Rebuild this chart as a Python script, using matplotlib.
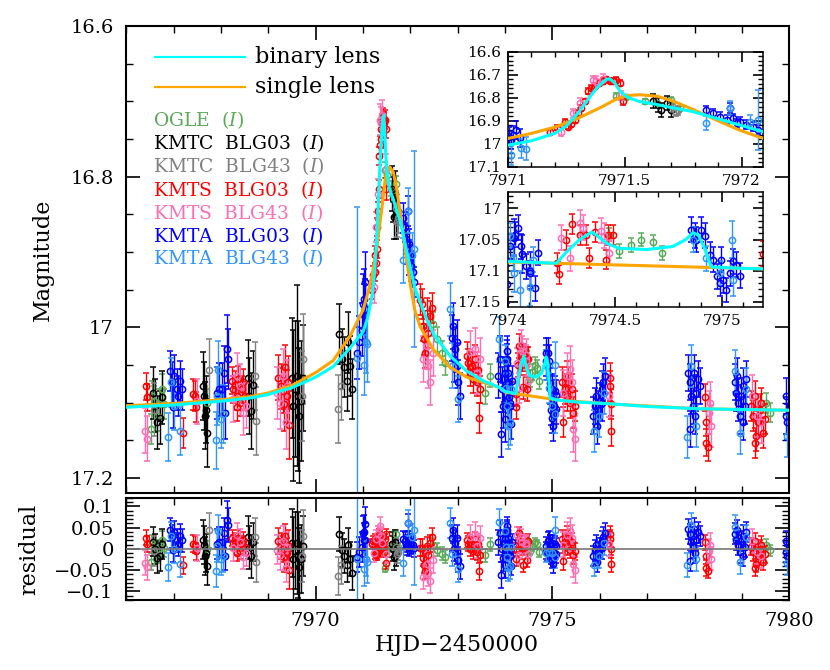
import matplotlib
matplotlib.use('Agg')
import matplotlib.pyplot as plt
import numpy as np
from matplotlib.ticker import MultipleLocator, FuncFormatter

plt.rcParams['font.family'] = 'DejaVu Serif'
plt.rcParams['mathtext.fontset'] = 'dejavuserif'
plt.rcParams['axes.linewidth'] = 1.5

# ---- model curves ----
bin_t = [7966.0, 7967.0, 7968.0, 7968.6, 7969.0, 7969.5, 7970.0, 7970.37, 7970.73, 7971.0,
         7971.1, 7971.2, 7971.25, 7971.3, 7971.35, 7971.38, 7971.42, 7971.436, 7971.457, 7971.48,
         7971.51, 7971.56, 7971.64, 7971.71, 7971.79, 7971.89, 7971.99, 7972.09, 7972.2, 7972.35,
         7972.5, 7972.84, 7973.19, 7973.54, 7973.89, 7974.0, 7974.226, 7974.27, 7974.335, 7974.39,
         7974.41, 7974.46, 7974.52, 7974.65, 7974.77, 7974.83, 7974.865, 7974.89, 7974.92, 7974.95,
         7975.08, 7975.19, 7975.5, 7976.35, 7977.0, 7978.1, 7979.0, 7980.0]
bin_mag = [17.106, 17.103, 17.098, 17.094, 17.089, 17.080, 17.066, 17.052, 17.027, 17.006,
           16.987, 16.955, 16.923, 16.867, 16.797, 16.758, 16.721, 16.718, 16.736, 16.772,
           16.797, 16.816, 16.830, 16.845, 16.860, 16.889, 16.918, 16.947, 16.965, 16.990,
           17.010, 17.038, 17.058, 17.071, 17.080, 17.085, 17.088, 17.071, 17.050, 17.038,
           17.042, 17.056, 17.064, 17.066, 17.061, 17.050, 17.039, 17.043, 17.066, 17.094,
           17.096, 17.097, 17.099, 17.102, 17.105, 17.108, 17.109, 17.110]

sgl_t = [7966.0, 7967.0, 7968.0, 7968.6, 7969.0, 7969.5, 7970.0, 7970.37, 7970.73, 7971.0,
         7971.1, 7971.2, 7971.3, 7971.4, 7971.464, 7971.51, 7971.564, 7971.64, 7971.71, 7971.79,
         7971.89, 7971.99, 7972.093, 7972.2, 7972.48, 7972.84, 7973.19, 7973.89, 7974.0, 7975.19,
         7976.35, 7978.1, 7980.0]
sgl_mag = [17.104, 17.101, 17.096, 17.092, 17.087, 17.077, 17.060, 17.044, 17.011, 16.977,
           16.955, 16.928, 16.889, 16.841, 16.806, 16.791, 16.787, 16.794, 16.816, 16.850,
           16.896, 16.940, 16.977, 16.998, 17.029, 17.053, 17.066, 17.080, 17.086, 17.097,
           17.102, 17.108, 17.110]

# ---- photometry: OGLE (I) ----
ogle_t = [7966.52, 7966.541, 7966.59, 7966.647, 7966.703, 7966.752, 7966.80, 7967.716,
          7971.464, 7971.507, 7971.586, 7971.636, 7971.70, 7971.736,
          7972.469, 7972.554, 7972.659, 7972.729, 7973.573, 7973.679,
          7974.47, 7974.52, 7974.575, 7974.623, 7974.677, 7974.72, 7979.516, 7979.60]
ogle_mag = [17.135, 17.091, 17.098, 17.117, 17.102, 17.082, 17.102, 17.100,
            16.791, 16.797, 16.816, 16.823, 16.809, 16.845,
            16.996, 17.016, 17.034, 17.047, 17.087, 17.064,
            17.042, 17.068, 17.059, 17.050, 17.054, 17.071, 17.100, 17.113]
ogle_err = [0.020, 0.020, 0.020, 0.020, 0.020, 0.020, 0.020, 0.018,
            0.010, 0.010, 0.010, 0.010, 0.010, 0.010,
            0.016, 0.016, 0.016, 0.016, 0.015, 0.015,
            0.011, 0.011, 0.011, 0.011, 0.011, 0.011, 0.013, 0.013]

# ---- KMTC BLG03 ----
kc03_t = [7966.563, 7966.612, 7966.661, 7966.717, 7966.75,
          7967.632, 7967.653, 7967.688, 7967.667, 7967.702,
          7968.581, 7968.602, 7968.630, 7968.686,
          7969.495, 7969.53, 7969.565, 7969.601, 7969.622, 7969.657, 7969.692, 7969.727,
          7970.501, 7970.55, 7970.599, 7970.655, 7970.69, 7970.726, 7970.761,
          7971.621, 7971.643, 7971.657, 7971.679, 7971.70]
kc03_mag = [17.087, 17.104, 17.126, 17.120, 17.093,
            17.078, 17.091, 17.109, 17.117, 17.140,
            17.067, 17.091, 17.111, 17.076,
            17.067, 17.104, 17.082, 17.064, 17.091, 17.117, 17.098, 17.067,
            17.009, 17.042, 17.053, 17.071, 17.020, 17.051, 17.082,
            16.816, 16.830, 16.853, 16.823, 16.853]
kc03_err = [0.035, 0.035, 0.035, 0.035, 0.035,
            0.045, 0.045, 0.045, 0.045, 0.045,
            0.050, 0.050, 0.050, 0.045,
            0.080, 0.100, 0.090, 0.120, 0.100, 0.090, 0.080, 0.070,
            0.040, 0.040, 0.040, 0.040, 0.040, 0.040, 0.040,
            0.030, 0.030, 0.030, 0.030, 0.030]

# ---- KMTC BLG43 ----
kc43_t = [7966.591, 7967.751, 7968.722, 7968.743, 7969.706, 7969.741, 7970.48, 7970.529,
          7971.707, 7971.721, 7971.729]
kc43_mag = [17.109, 17.056, 17.064, 17.124, 17.091, 17.042, 17.108, 17.078,
            16.841, 16.860, 16.855]
kc43_err = [0.035, 0.040, 0.045, 0.045, 0.060, 0.060, 0.045, 0.045,
            0.020, 0.020, 0.020]

# ---- KMTS BLG03 ----
ks03_t = [7966.415, 7966.43, 7967.21, 7967.42, 7967.456, 7967.477,
          7968.229, 7968.264, 7968.30, 7968.335, 7968.37, 7968.405, 7968.44, 7968.475, 7968.511, 7968.349,
          7969.214, 7969.263, 7969.305, 7969.354, 7969.39, 7969.425, 7969.333, 7969.44,
          7971.18, 7971.21, 7971.243, 7971.257, 7971.271, 7971.286, 7971.30, 7971.314, 7971.329,
          7971.343, 7971.357, 7971.371, 7971.39, 7971.407, 7971.421, 7971.436, 7971.45, 7971.464,
          7971.479, 7971.493,
          7972.202, 7972.237, 7972.272, 7972.307, 7972.343, 7972.378, 7972.413, 7972.448, 7972.286,
          7973.186, 7973.222, 7973.257, 7973.292, 7973.327, 7973.362, 7973.397, 7973.433, 7973.454, 7973.468,
          7974.23, 7974.24, 7974.27, 7974.30, 7974.335, 7974.366, 7974.38, 7974.405, 7974.459, 7974.467, 7974.49,
          7975.191, 7975.226, 7975.261, 7975.296, 7975.331, 7975.367, 7975.402, 7975.437, 7975.472, 7975.31,
          7976.21, 7976.224, 7976.23, 7976.245,
          7978.215, 7978.236, 7978.285, 7978.25,
          7979.199, 7979.234, 7979.269, 7979.305, 7979.34, 7979.375, 7979.41, 7979.445, 7979.28, 7979.48]
ks03_mag = [17.078, 17.093, 17.140, 17.089, 17.091, 17.106,
            17.071, 17.082, 17.076, 17.091, 17.069, 17.100, 17.082, 17.073, 17.091, 17.106,
            17.067, 17.078, 17.084, 17.053, 17.091, 17.073, 17.102, 17.130,
            16.950, 16.930, 16.904, 16.926, 16.914, 16.896, 16.867, 16.845, 16.816,
            16.772, 16.758, 16.750, 16.736, 16.728, 16.721, 16.726, 16.728, 16.724,
            16.736, 16.816,
            16.963, 16.969, 16.998, 17.034, 16.981, 17.007, 16.985, 16.974, 17.016,
            17.038, 17.047, 17.060, 17.051, 17.069, 17.042, 17.073, 17.056, 17.120, 17.082,
            17.088, 17.106, 17.050, 17.025, 17.042, 17.042, 17.079, 17.038, 17.082, 17.042, 17.042,
            17.073, 17.126, 17.082, 17.091, 17.073, 17.100, 17.082, 17.113, 17.104, 17.064,
            17.078, 17.067, 17.102, 17.137,
            17.093, 17.153, 17.159, 17.126,
            17.104, 17.117, 17.091, 17.144, 17.126, 17.109, 17.100, 17.140, 17.153, 17.122]
ks03_err = [0.018, 0.018, 0.020, 0.020, 0.020, 0.020,
            0.018, 0.018, 0.018, 0.018, 0.018, 0.018, 0.018, 0.018, 0.018, 0.018,
            0.030, 0.030, 0.030, 0.030, 0.035, 0.035, 0.035, 0.045,
            0.012, 0.012, 0.012, 0.012, 0.012, 0.012, 0.012, 0.012, 0.012,
            0.012, 0.012, 0.012, 0.012, 0.012, 0.012, 0.012, 0.012, 0.012,
            0.012, 0.015,
            0.020, 0.020, 0.020, 0.020, 0.020, 0.020, 0.020, 0.020, 0.020,
            0.018, 0.018, 0.018, 0.018, 0.018, 0.018, 0.018, 0.018, 0.020, 0.018,
            0.016, 0.016, 0.016, 0.016, 0.016, 0.016, 0.016, 0.016, 0.016, 0.016, 0.016,
            0.020, 0.020, 0.020, 0.020, 0.020, 0.020, 0.020, 0.020, 0.020, 0.020,
            0.020, 0.020, 0.020, 0.020,
            0.018, 0.018, 0.018, 0.018,
            0.020, 0.020, 0.020, 0.020, 0.020, 0.020, 0.020, 0.020, 0.020, 0.020]

# ---- KMTS BLG43 ----
ks43_t = [7966.401, 7966.436, 7967.491,
          7968.264, 7968.349, 7968.405, 7968.461, 7968.532,
          7969.193, 7969.249, 7969.319, 7969.376, 7969.404,
          7971.229, 7971.279, 7971.307, 7971.364, 7971.379, 7971.407, 7971.486,
          7972.272, 7972.343, 7972.378, 7972.413, 7972.483,
          7973.257, 7973.362, 7973.411, 7973.468,
          7974.25, 7974.29, 7974.335, 7974.35, 7974.436, 7974.45, 7974.474,
          7975.226, 7975.296, 7975.367, 7975.437, 7975.472, 7975.402,
          7976.19, 7978.32, 7978.306, 7978.355, 7979.22, 7979.319, 7979.41]
ks43_mag = [17.137, 17.148, 17.098,
            17.095, 17.064, 17.078, 17.113, 17.104,
            17.087, 17.100, 17.064, 17.126, 17.078,
            16.947, 16.867, 16.823, 16.724, 16.728, 16.718, 16.790,
            17.042, 17.025, 17.051, 17.073, 17.034,
            17.033, 17.029, 17.060, 17.042,
            17.047, 17.080, 17.023, 17.031, 17.036, 17.044, 17.071,
            17.087, 17.064, 17.055, 17.135, 17.148, 17.073,
            17.091, 17.100, 17.113, 17.131, 17.091, 17.117, 17.126]
ks43_err = [0.030, 0.030, 0.030,
            0.030, 0.030, 0.030, 0.030, 0.030,
            0.035, 0.035, 0.035, 0.035, 0.035,
            0.020, 0.020, 0.020, 0.020, 0.020, 0.020, 0.020,
            0.030, 0.030, 0.030, 0.030, 0.030,
            0.028, 0.028, 0.028, 0.028,
            0.020, 0.020, 0.020, 0.020, 0.020, 0.020, 0.020,
            0.030, 0.030, 0.030, 0.030, 0.030, 0.030,
            0.028, 0.028, 0.028, 0.028, 0.028, 0.028, 0.028]

# ---- KMTA BLG03 ----
ka03_t = [7966.928, 7966.963, 7967.013, 7967.069, 7967.104, 7967.139, 7967.174, 7966.985,
          7967.913, 7967.969, 7968.018, 7968.068, 7968.089, 7968.124, 7968.145,
          7970.88, 7970.923, 7970.972, 7971.004, 7971.014, 7971.021, 7971.036, 7971.05,
          7971.85, 7971.879, 7971.907, 7971.936, 7971.964, 7971.993, 7972.021, 7972.05, 7972.071,
          7971.95, 7971.979,
          7972.87, 7972.905, 7972.94, 7972.976, 7973.011, 7973.046, 7972.92, 7972.99,
          7973.855, 7973.89, 7973.925, 7973.96, 7973.995, 7974.03, 7974.066, 7974.101, 7973.905, 7973.974,
          7974.008, 7974.031, 7974.047, 7974.062, 7974.086, 7974.101, 7974.125, 7974.14,
          7974.857, 7974.872, 7974.88, 7974.903, 7974.919, 7974.942, 7974.958, 7974.974, 7974.989,
          7975.005, 7975.02, 7975.036, 7975.051, 7975.067, 7975.083, 7974.997,
          7975.859, 7975.894, 7975.929, 7975.964, 7975.999, 7976.035, 7976.07, 7976.105, 7975.94, 7976.05,
          7977.863, 7977.898, 7977.933, 7977.968, 7978.004, 7978.039, 7978.074, 7978.109, 7977.91, 7977.98,
          7978.848, 7978.883, 7978.918, 7978.953, 7978.989, 7979.024, 7979.059, 7979.094, 7978.897, 7979.03,
          7979.937, 7979.94, 7979.945]
ka03_mag = [17.058, 17.073, 17.064, 17.082, 17.091, 17.071, 17.082, 17.106,
            17.087, 17.082, 17.082, 17.060, 17.113, 17.029, 17.042,
            17.034, 17.020, 17.003, 16.969, 16.983, 16.962, 16.940, 16.976,
            16.855, 16.867, 16.882, 16.896, 16.889, 16.904, 16.918, 16.926, 16.940,
            16.845, 16.911,
            17.014, 16.998, 17.029, 17.051, 17.073, 17.091, 17.042, 17.020,
            17.064, 17.042, 17.082, 17.104, 17.122, 17.047, 17.073, 17.100, 17.142, 17.069,
            17.061, 17.042, 17.031, 17.061, 17.093, 17.104, 17.128, 17.071,
            17.034, 17.044, 17.050, 17.034, 17.044, 17.074, 17.082, 17.109, 17.120,
            17.115, 17.131, 17.104, 17.085, 17.090, 17.108, 17.082,
            17.117, 17.104, 17.091, 17.109, 17.098, 17.082, 17.073, 17.064, 17.131, 17.100,
            17.060, 17.073, 17.091, 17.104, 17.117, 17.087, 17.069, 17.078, 17.135, 17.060,
            17.073, 17.087, 17.100, 17.117, 17.091, 17.078, 17.104, 17.069, 17.064, 17.126,
            17.091, 17.117, 17.126]
ka03_err = [0.027] * 8 + [0.035, 0.035, 0.035, 0.035, 0.035, 0.045, 0.040] + \
           [0.035, 0.035, 0.035, 0.040, 0.040, 0.040, 0.040, 0.040] + [0.020] * 11 + \
           [0.030] * 8 + [0.030] * 10 + [0.020] * 8 + [0.020] * 16 + [0.024] * 10 + \
           [0.024] * 10 + [0.024] * 10 + [0.024] * 3

# ---- KMTA BLG43 ----
ka43_t = [7966.893, 7966.942, 7967.0, 7967.139,
          7967.899, 7967.927, 7967.948, 7967.997, 7968.039,
          7970.87, 7971.077, 7971.014, 7971.057,
          7971.85, 7971.95, 7972.036, 7972.071,
          7972.835, 7972.87, 7973.011,
          7973.876, 7974.03, 7974.101,
          7974.008, 7974.054, 7974.023, 7974.117,
          7974.864, 7974.926, 7974.989, 7975.051, 7975.044,
          7975.873, 7975.985, 7976.084,
          7977.842, 7977.933, 7978.039,
          7978.848, 7978.953, 7979.094, 7979.952]
ka43_mag = [17.146, 17.073, 17.104, 17.137,
            17.150, 17.091, 17.056, 17.122, 17.115,
            17.040, 17.022, 17.050, 17.020,
            16.911, 16.845, 16.904, 16.896,
            16.976, 17.051, 17.095,
            17.016, 17.104, 17.126,
            17.044, 17.131, 17.080, 17.082,
            17.050, 17.080, 17.104, 17.115, 17.050,
            17.137, 17.117, 17.087,
            17.146, 17.051, 17.131,
            17.058, 17.140, 17.082, 17.144]
ka43_err = [0.032, 0.032, 0.032, 0.032,
            0.038, 0.038, 0.038, 0.038, 0.038,
            0.200, 0.050, 0.040, 0.040,
            0.030, 0.030, 0.030, 0.130,
            0.035, 0.030, 0.030,
            0.030, 0.030, 0.030,
            0.020, 0.030, 0.020, 0.020,
            0.020, 0.020, 0.020, 0.025, 0.030,
            0.028, 0.028, 0.028,
            0.028, 0.028, 0.028,
            0.028, 0.028, 0.028, 0.028]

labels = ['OGLE  ($I$)', 'KMTC  BLG03  ($I$)', 'KMTC  BLG43  ($I$)', 'KMTS  BLG03  ($I$)',
          'KMTS  BLG43  ($I$)', 'KMTA  BLG03  ($I$)', 'KMTA  BLG43  ($I$)']
colors = ['#5aaa5a', 'black', '#808080', 'red', '#ff6eb4', 'blue', '#2f95ff']
sets = [(ogle_t, ogle_mag, ogle_err), (kc03_t, kc03_mag, kc03_err), (kc43_t, kc43_mag, kc43_err),
        (ks03_t, ks03_mag, ks03_err), (ks43_t, ks43_mag, ks43_err), (ka03_t, ka03_mag, ka03_err),
        (ka43_t, ka43_mag, ka43_err)]


def draw_data(ax, resid=False):
    for (t, m, e), c in zip(sets, colors):
        t = np.asarray(t)
        m = np.asarray(m)
        y = np.interp(t, bin_t, bin_mag) - m if resid else m
        ax.errorbar(t, y, yerr=e, fmt='o', ms=4.5, mfc='none', mec=c, mew=1.1,
                    ecolor=c, elinewidth=1.0, capsize=2.3, capthick=1.0, zorder=2)


def fmt(v, p):
    if abs(v) < 1e-9:
        return '0'
    return ('%g' % round(v, 4)).replace('-', '\u2212')


def style(ax, xmaj, xmin, ymaj, ymin, size, major, minor, pad):
    ax.xaxis.set_major_locator(MultipleLocator(xmaj))
    ax.xaxis.set_minor_locator(MultipleLocator(xmin))
    ax.yaxis.set_major_locator(MultipleLocator(ymaj))
    ax.yaxis.set_minor_locator(MultipleLocator(ymin))
    ax.xaxis.set_major_formatter(FuncFormatter(fmt))
    ax.yaxis.set_major_formatter(FuncFormatter(fmt))
    ax.tick_params(which='both', direction='in', top=True, right=True, labelsize=size, pad=pad)
    ax.tick_params(which='major', length=major, width=1.2)
    ax.tick_params(which='minor', length=minor, width=1.0)


fig = plt.figure(figsize=(8.3, 6.7), dpi=100)

# main light curve
ax = fig.add_axes([0.152, 0.264, 0.799, 0.697])
draw_data(ax)
ax.plot(sgl_t, sgl_mag, color='orange', lw=2.2, zorder=3)
ax.plot(bin_t, bin_mag, color='cyan', lw=2.2, zorder=4)
ax.set_xlim(7966, 7980)
ax.set_ylim(17.22, 16.6)
style(ax, 5, 1, 0.2, 0.05, 14, 10, 5, 9)
ax.tick_params(labelbottom=False)

# legend, written straight into the panel
ax.plot([0.044, 0.179], [0.934, 0.934], color='cyan', lw=1.6, transform=ax.transAxes)
ax.plot([0.044, 0.179], [0.869, 0.869], color='orange', lw=1.6, transform=ax.transAxes)
ax.text(0.195, 0.921, 'binary lens', fontsize=16, transform=ax.transAxes, va='baseline')
ax.text(0.195, 0.857, 'single lens', fontsize=16, transform=ax.transAxes, va='baseline')
label_y = [0.786, 0.737, 0.687, 0.636, 0.587, 0.537, 0.490]
for lab, c, yy in zip(labels, colors, label_y):
    ax.text(0.041, yy, lab, color=c, fontsize=13.5, transform=ax.transAxes, va='baseline')

# residuals
axr = fig.add_axes([0.152, 0.1045, 0.799, 0.1525])
draw_data(axr, resid=True)
axr.axhline(0, color='#777777', lw=1.2, zorder=3)
axr.set_xlim(7966, 7980)
axr.set_ylim(-0.12, 0.12)
style(axr, 5, 1, 0.05, 0.01, 14, 10, 5, 9)

fig.text(43 / 830, 1 - 260 / 670, 'Magnitude', rotation=90, ha='center', va='center', fontsize=16)
fig.text(29 / 830, 1 - 549 / 670, 'residual', rotation=90, ha='center', va='center', fontsize=16)
fig.text(457 / 830, 1 - 645 / 670, 'HJD\u22122450000', ha='center', va='center', fontsize=16)

# inset: around the peak
ax1 = fig.add_axes([0.612, 0.751, 0.307, 0.172])
draw_data(ax1)
ax1.plot(sgl_t, sgl_mag, color='orange', lw=2.2, zorder=3)
ax1.plot(bin_t, bin_mag, color='cyan', lw=2.2, zorder=4)
ax1.set_xlim(7971.0, 7972.091)
ax1.set_ylim(17.1, 16.6)
style(ax1, 0.5, 0.1, 0.1, 0.02, 11, 7, 3.5, 5)
for s in ax1.spines.values():
    s.set_linewidth(1.1)

# inset: the second bump
ax2 = fig.add_axes([0.612, 0.542, 0.307, 0.172])
draw_data(ax2)
ax2.plot(sgl_t, sgl_mag, color='orange', lw=2.2, zorder=3)
ax2.plot(bin_t, bin_mag, color='cyan', lw=2.2, zorder=4)
ax2.set_xlim(7974.0, 7975.19)
ax2.set_ylim(17.158, 16.973)
style(ax2, 0.5, 0.1, 0.05, 0.01, 11, 7, 3.5, 5)
for s in ax2.spines.values():
    s.set_linewidth(1.1)

plt.savefig('out.png', dpi=100)
